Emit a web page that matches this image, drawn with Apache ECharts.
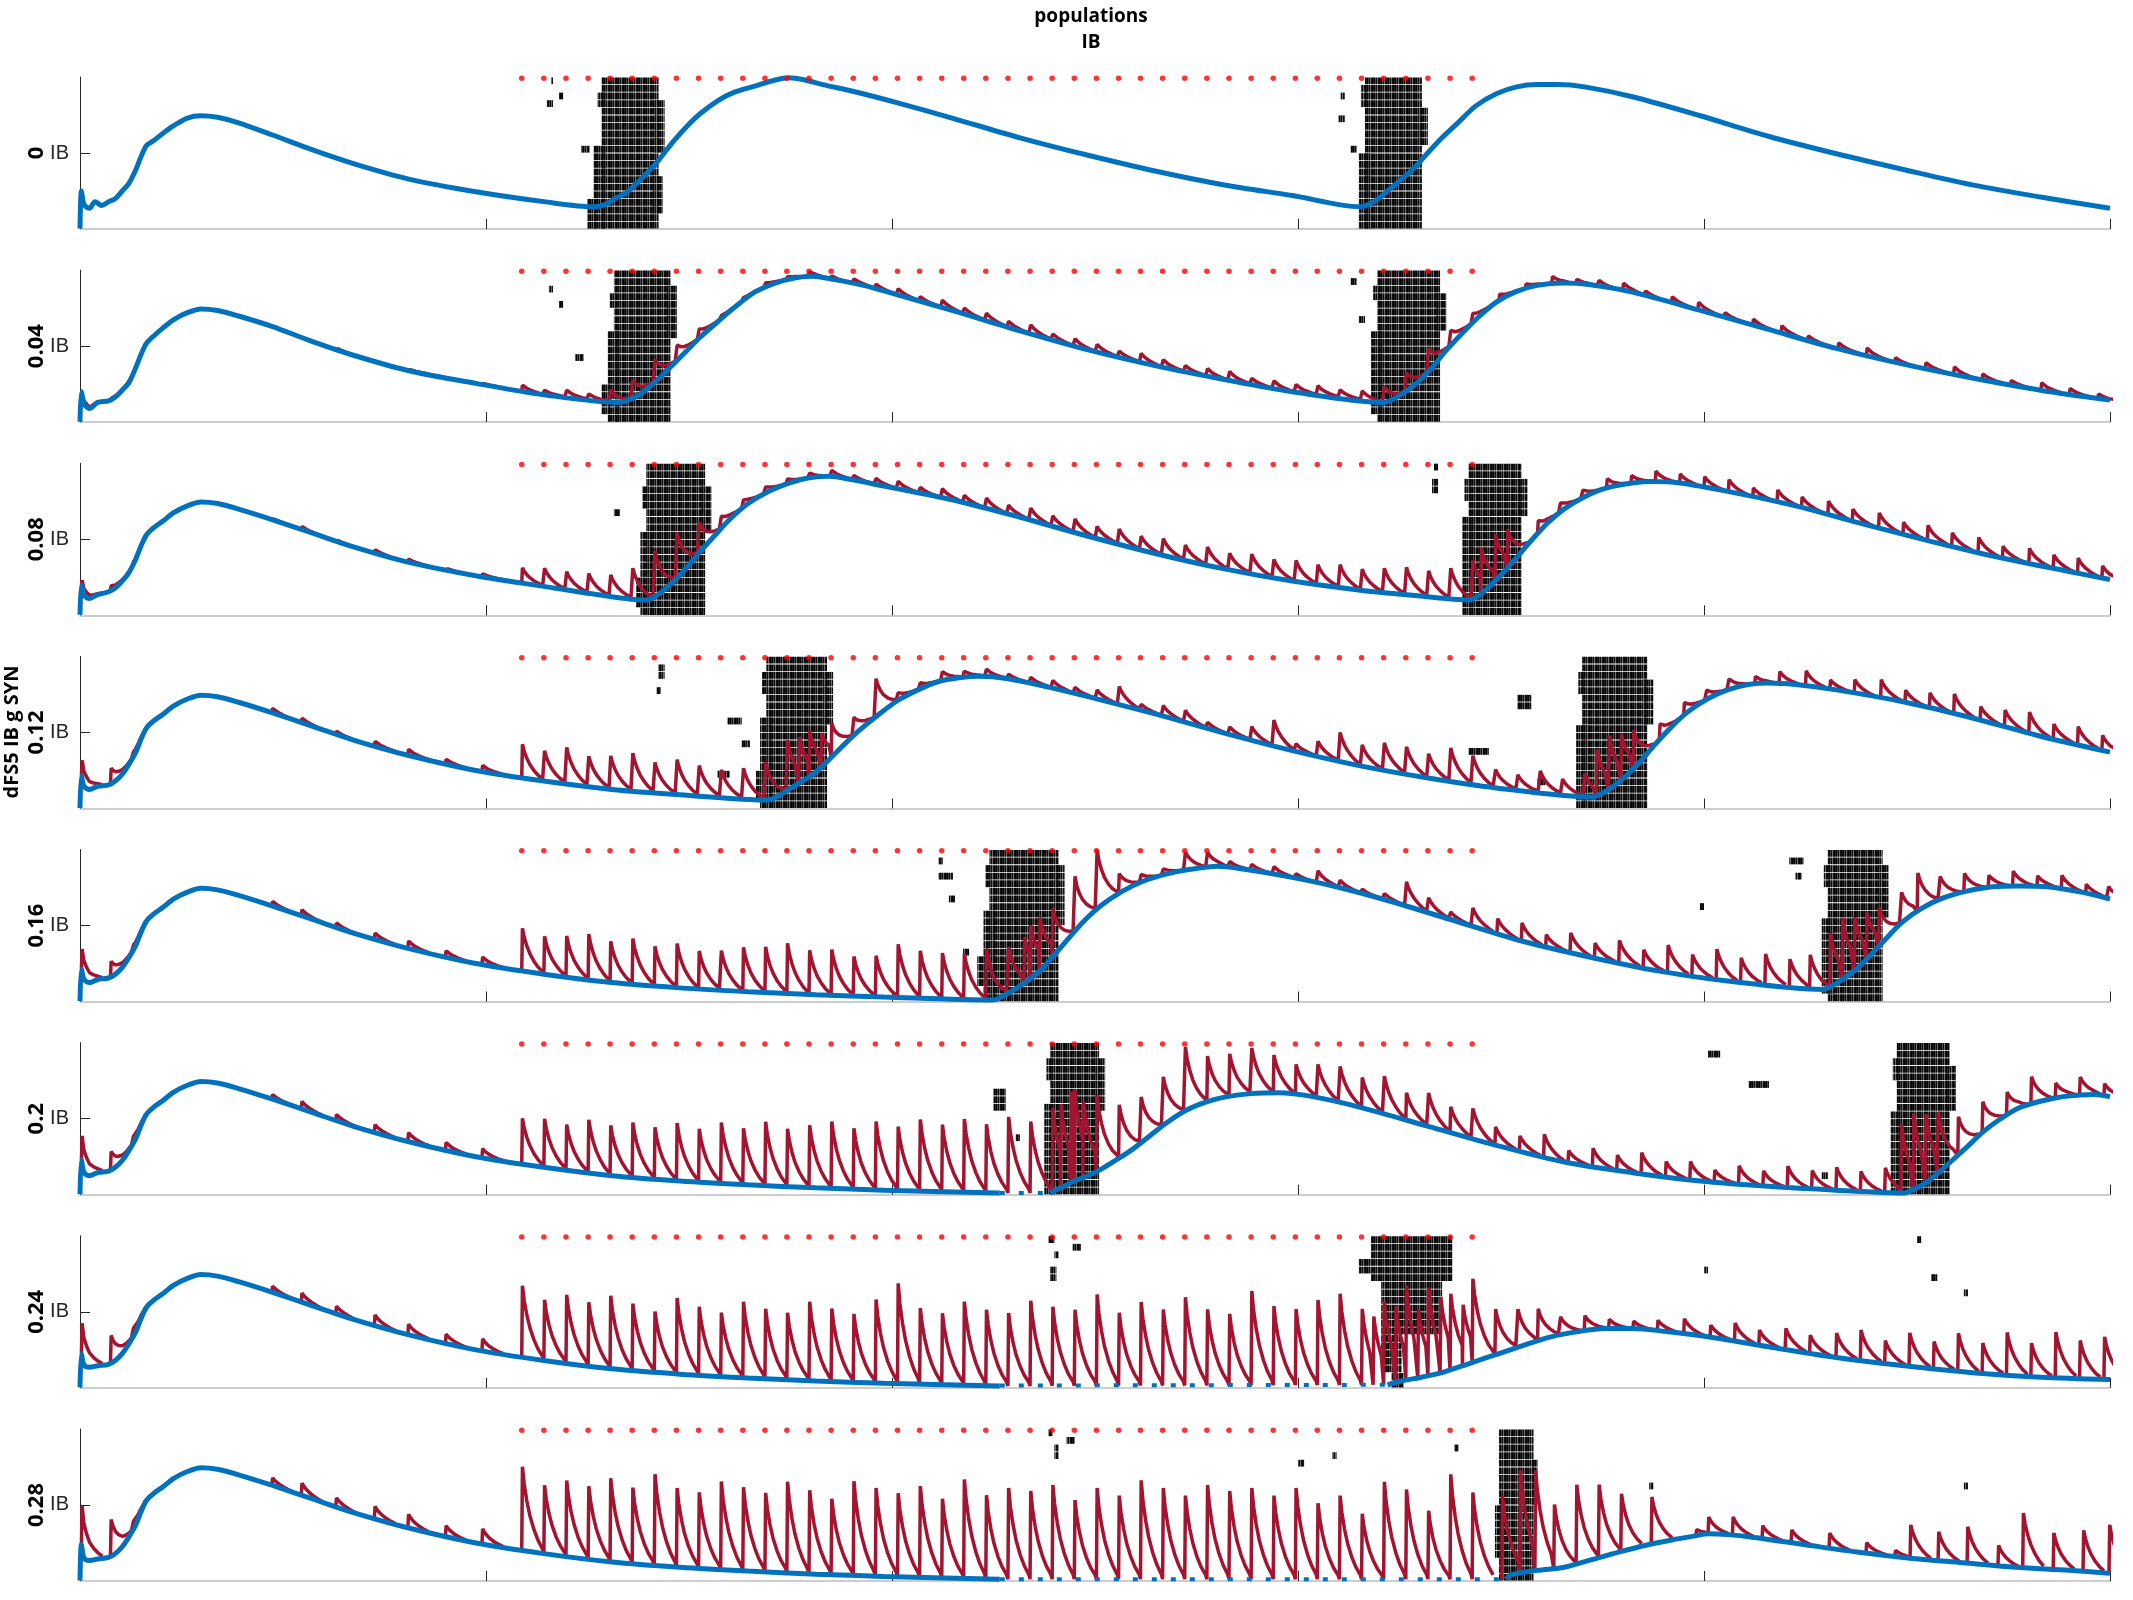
<!DOCTYPE html>
<html><head><meta charset="utf-8">
<script src="https://cdn.jsdelivr.net/npm/echarts@6/dist/echarts.min.js"></script>
<style>html,body{margin:0;padding:0;background:#fff}#c{width:2133px;height:1600px}</style>
</head><body><div id="c"></div>
<script>
// ---------------- data ----------------
const panelLabels = ['0','0.04','0.08','0.12','0.16','0.2','0.24','0.28'];
const xTicks = [0,200,400,600,800,1000];
const rowCount = 20;

// input pulse times (red dots)
const inputTimes = [217.6,228.5,239.4,250.3,261.1,272.0,282.9,293.8,304.7,315.6,326.5,337.4,348.2,359.1,370.0,380.9,391.8,402.7,413.6,424.5,435.3,446.2,457.1,468.0,478.9,489.8,500.7,511.6,522.4,533.3,544.2,555.1,566.0,576.9,587.8,598.7,609.5,620.4,631.3,642.2,653.1,664.0,674.9,685.8];
const earlyTimes = [0.7,15,26,94.5,109,126,145,161.5,180,198];

// blue traces [t, v]  (null = break)
const blue1 = [[0,0.003],[0.7,0.25],[2,0.16],[4.7,0.137],[7.4,0.18],[10.7,0.155],[14.1,0.18],[17.4,0.2],[20.8,0.25],[24.1,0.3],[27.5,0.39],[30.2,0.48],[32.8,0.55],[36.2,0.58],[40.9,0.63],[46.2,0.68],[52.9,0.73],[59.6,0.745],[67.7,0.735],[77.7,0.70],[94.5,0.62],[114.6,0.52],[134.7,0.43],[161.5,0.33],[195,0.245],[228.5,0.18],[253.3,0.146],[258.7,0.16],[263.4,0.2],[268.8,0.235],[274.1,0.3],[278.8,0.36],[285.5,0.46],[292.2,0.575],[298.9,0.675],[305.6,0.76],[314.3,0.845],[322.4,0.9],[332.4,0.94],[342.5,0.98],[349.2,0.995],[357.2,0.98],[365.9,0.95],[382.7,0.9],[402.8,0.83],[429.6,0.73],[463.1,0.6],[496.6,0.485],[530.1,0.38],[563.7,0.29],[597.2,0.22],[630.7,0.146],[637.4,0.18],[644.1,0.25],[650.8,0.325],[657.5,0.405],[664.2,0.505],[670.9,0.6],[678.9,0.7],[687.6,0.81],[697.7,0.89],[707.7,0.935],[717.8,0.95],[727.8,0.95],[741.2,0.935],[764.7,0.87],[798.2,0.745],[831.7,0.61],[865.2,0.495],[898.7,0.39],[932.2,0.29],[965.8,0.21],[1000,0.137]];
const blue2 = [[0,0.003],[0.7,0.2],[2,0.12],[4.7,0.09],[8.7,0.13],[14.1,0.14],[17.4,0.165],[20.8,0.21],[24.1,0.26],[27.5,0.36],[30.2,0.45],[32.8,0.52],[36.2,0.565],[40.9,0.62],[46.2,0.675],[52.9,0.72],[59.6,0.745],[67.7,0.735],[77.7,0.70],[94.5,0.63],[114.6,0.53],[134.7,0.44],[161.5,0.34],[195,0.255],[228.5,0.18],[265.4,0.13],[270.1,0.145],[275.5,0.18],[280.8,0.235],[286.2,0.3],[292.2,0.38],[298.9,0.47],[305.6,0.56],[313.7,0.655],[322.4,0.755],[332.4,0.855],[342.5,0.915],[352.5,0.95],[361.2,0.96],[370.6,0.94],[386,0.9],[406.1,0.825],[429.6,0.735],[463.1,0.6],[496.6,0.475],[530.1,0.37],[563.7,0.28],[597.2,0.2],[642,0.13],[647.4,0.155],[652.8,0.2],[658.8,0.26],[665.5,0.35],[672.9,0.47],[680.9,0.585],[689.6,0.7],[697.7,0.79],[707.7,0.86],[717.8,0.9],[731.2,0.915],[743.2,0.905],[764.7,0.855],[798.2,0.735],[831.7,0.61],[865.2,0.485],[898.7,0.38],[932.2,0.29],[965.8,0.21],[1000,0.145]];
const blue3 = [[0,0.003],[0.7,0.2],[2,0.13],[4.7,0.11],[8.7,0.135],[14.1,0.155],[17.4,0.18],[20.8,0.225],[24.1,0.28],[27.5,0.37],[30.2,0.46],[32.8,0.53],[36.2,0.575],[40.9,0.62],[46.2,0.675],[52.9,0.72],[59.6,0.745],[67.7,0.735],[77.7,0.70],[94.5,0.63],[114.6,0.54],[134.7,0.45],[161.5,0.35],[195,0.26],[228.5,0.19],[255.3,0.135],[278.8,0.1],[283.5,0.125],[288.9,0.18],[294.2,0.245],[300.2,0.335],[306.3,0.43],[313,0.53],[320.4,0.635],[329.1,0.735],[339.1,0.815],[349.2,0.87],[359.2,0.905],[369.3,0.915],[379.3,0.895],[396.1,0.85],[429.6,0.76],[463.1,0.645],[496.6,0.52],[530.1,0.405],[563.7,0.305],[597.2,0.225],[630.7,0.165],[657.5,0.13],[684.3,0.1],[689.6,0.135],[695,0.2],[701,0.28],[707.7,0.38],[715.1,0.495],[723.2,0.61],[731.2,0.7],[741.2,0.78],[751.3,0.835],[764.7,0.87],[774.8,0.88],[788.2,0.87],[811.6,0.815],[845.1,0.72],[878.6,0.6],[912.2,0.485],[945.6,0.38],[979.2,0.29],[1000,0.235]];
const blue4 = [[0,0.003],[0.7,0.215],[2,0.145],[4.7,0.125],[8.7,0.145],[14.1,0.155],[17.4,0.18],[20.8,0.225],[24.1,0.29],[27.5,0.37],[30.2,0.46],[32.8,0.53],[36.2,0.575],[40.9,0.62],[46.2,0.675],[52.9,0.72],[59.6,0.745],[67.7,0.735],[77.7,0.70],[94.5,0.63],[114.6,0.54],[134.7,0.45],[161.5,0.35],[195,0.25],[228.5,0.18],[262,0.125],[295.6,0.09],[339.1,0.055],[343.8,0.08],[349.2,0.125],[355.9,0.18],[362.6,0.24],[369.3,0.325],[376,0.415],[384,0.515],[392.7,0.61],[402.8,0.71],[412.8,0.78],[422.9,0.835],[432.9,0.86],[443,0.87],[456.4,0.855],[476.5,0.8],[496.6,0.735],[530.1,0.62],[563.7,0.495],[597.2,0.38],[630.7,0.28],[664.2,0.2],[697.7,0.135],[744.6,0.075],[749.9,0.1],[755.3,0.145],[761.3,0.21],[768.1,0.3],[774.8,0.405],[782.8,0.52],[791.5,0.63],[801.6,0.72],[811.6,0.78],[821.7,0.815],[831.7,0.825],[845.1,0.815],[865.2,0.78],[898.7,0.7],[932.2,0.595],[965.8,0.475],[1000,0.37]];
const blue5 = [[0,0.003],[0.7,0.215],[2,0.145],[4.7,0.125],[8.7,0.145],[14.1,0.155],[17.4,0.18],[20.8,0.225],[24.1,0.29],[27.5,0.37],[30.2,0.46],[32.8,0.53],[36.2,0.575],[40.9,0.62],[46.2,0.675],[52.9,0.72],[59.6,0.745],[67.7,0.735],[77.7,0.70],[94.5,0.63],[114.6,0.54],[134.7,0.45],[161.5,0.35],[195,0.25],[228.5,0.18],[262,0.125],[295.6,0.09],[329.1,0.065],[362.6,0.045],[396.1,0.03],[449.7,0.01],[455.1,0.04],[460.4,0.08],[466.5,0.135],[473.2,0.205],[479.9,0.305],[486.6,0.41],[494.6,0.53],[503.3,0.635],[513.4,0.725],[523.4,0.79],[535.5,0.84],[546.9,0.87],[560.3,0.89],[573.7,0.87],[593.8,0.825],[617.3,0.76],[644.1,0.665],[677.6,0.53],[711.1,0.395],[744.6,0.29],[778.1,0.2],[811.6,0.135],[858.5,0.08],[863.9,0.11],[869.2,0.155],[875.3,0.215],[882,0.305],[889.4,0.41],[897.4,0.52],[906.8,0.61],[917.5,0.68],[928.9,0.725],[942.3,0.755],[955.7,0.76],[969.1,0.755],[985.8,0.72],[1000,0.675]];
const blue6 = [[0,0.003],[0.7,0.23],[2,0.145],[4.7,0.125],[8.7,0.145],[14.1,0.155],[17.4,0.18],[20.8,0.225],[24.1,0.29],[27.5,0.37],[30.2,0.46],[32.8,0.53],[36.2,0.575],[40.9,0.62],[46.2,0.675],[52.9,0.72],[59.6,0.745],[67.7,0.735],[77.7,0.70],[94.5,0.63],[114.6,0.54],[134.7,0.45],[161.5,0.35],[195,0.25],[228.5,0.18],[262,0.125],[295.6,0.09],[329.1,0.065],[362.6,0.045],[396.1,0.03],[453.1,0.012],null,[477.9,0.012],[483.2,0.045],[489.9,0.09],[496.6,0.125],[503.3,0.17],[510,0.225],[518.1,0.295],[526.8,0.385],[535.5,0.475],[544.9,0.555],[554.9,0.61],[565,0.645],[577,0.665],[590.5,0.67],[607.2,0.645],[630.7,0.575],[664.2,0.45],[697.7,0.325],[731.2,0.215],[764.7,0.145],[798.2,0.09],[831.7,0.055],[865.2,0.03],[898.7,0.012],[904.1,0.04],[909.5,0.08],[915.5,0.145],[922.2,0.225],[929.6,0.315],[937.6,0.415],[945.6,0.495],[955,0.57],[965.8,0.615],[979.2,0.65],[992.5,0.66],[1000,0.645]];
const blue7 = [[0,0.003],[0.7,0.225],[2,0.15],[4.7,0.135],[8.7,0.145],[14.1,0.155],[17.4,0.18],[20.8,0.225],[24.1,0.29],[27.5,0.37],[30.2,0.46],[32.8,0.53],[36.2,0.575],[40.9,0.62],[46.2,0.675],[52.9,0.72],[59.6,0.745],[67.7,0.735],[77.7,0.70],[94.5,0.63],[114.6,0.54],[134.7,0.45],[161.5,0.35],[195,0.25],[228.5,0.18],[262,0.125],[295.6,0.09],[329.1,0.065],[362.6,0.045],[396.1,0.03],[453.1,0.012],null,[644.1,0.02],[650.8,0.045],[660.9,0.07],[670.9,0.1],[684.3,0.16],[697.7,0.22],[711.1,0.28],[724.5,0.335],[737.9,0.37],[751.3,0.39],[764.7,0.39],[781.5,0.37],[804.9,0.33],[831.7,0.27],[865.2,0.2],[898.7,0.145],[932.2,0.1],[965.8,0.07],[1000,0.055]];
const blue8 = [[0,0.003],[0.7,0.24],[2,0.15],[4.7,0.135],[8.7,0.145],[14.1,0.155],[17.4,0.18],[20.8,0.225],[24.1,0.29],[27.5,0.37],[30.2,0.46],[32.8,0.53],[36.2,0.575],[40.9,0.62],[46.2,0.675],[52.9,0.72],[59.6,0.745],[67.7,0.735],[77.7,0.70],[94.5,0.63],[114.6,0.54],[134.7,0.45],[161.5,0.35],[195,0.25],[228.5,0.18],[262,0.125],[295.6,0.09],[329.1,0.065],[362.6,0.045],[396.1,0.03],[453.1,0.012],null,[702.4,0.012],[705,0.04],[717.8,0.07],[731.2,0.09],[744.6,0.14],[758,0.19],[771.4,0.235],[784.1,0.27],[794.9,0.295],[802.2,0.31],[811.6,0.305],[823,0.29],[849.1,0.24],[875.3,0.19],[901.4,0.15],[927.6,0.12],[953.7,0.09],[979.8,0.07],[1000,0.05]];
// sub-threshold blue segments (drawn dotted)
const blueGap6 = [[453.1,0.012],[477.9,0.012]];
const blueGap7 = [[453.1,0.015],[644.1,0.02]];
const blueGap8 = [[453.1,0.012],[702.4,0.012]];

// red spike amplitudes (above blue) at earlyTimes
const redEarly1 = [0,0,0,0,0,0,0,0,0,0];
const redEarly2 = [0.02,0.01,0,0,0,0.01,0,0.01,0,0.01];
const redEarly3 = [0.05,0.03,0.01,0.01,0.02,0.01,0.02,0.02,0.01,0.02];
const redEarly4 = [0.12,0.1,0.03,0.03,0.03,0.02,0.03,0.04,0.03,0.04];
const redEarly5 = [0.15,0.1,0.03,0.03,0.04,0.03,0.04,0.05,0.04,0.05];
const redEarly6 = [0.18,0.12,0.04,0.03,0.05,0.04,0.05,0.06,0.05,0.06];
const redEarly7 = [0.22,0.18,0.05,0.04,0.06,0.05,0.07,0.07,0.06,0.08];
const redEarly8 = [0.28,0.24,0.05,0.05,0.08,0.06,0.08,0.09,0.07,0.1];
// red spike amplitudes at inputTimes
const redWin1 = [];
const redWin2 = [0.04,0.03,0.045,0.035,0.08,0.12,0.15,0.1,0.06,0.02,0.02,0.03,0.02,0.03,0.02,0.03,0.03,0.04,0.03,0.05,0.04,0.05,0.04,0.06,0.04,0.05,0.05,0.04,0.06,0.05,0.04,0.05,0.06,0.04,0.05,0.05,0.06,0.05,0.06,0.1,0.12,0.15,0.1,0.06];
const redWin3 = [0.1,0.12,0.12,0.13,0.14,0.2,0.3,0.3,0.2,0.08,0.05,0.04,0.03,0.03,0.04,0.03,0.04,0.05,0.04,0.06,0.05,0.07,0.06,0.08,0.07,0.09,0.08,0.1,0.09,0.11,0.1,0.12,0.11,0.13,0.12,0.14,0.13,0.15,0.14,0.16,0.18,0.17,0.2,0.25];
const redWin4 = [0.22,0.2,0.24,0.2,0.22,0.25,0.2,0.23,0.2,0.18,0.2,0.25,0.33,0.3,0.22,0.12,0.25,0.05,0.04,0.06,0.04,0.05,0.03,0.04,0.05,0.04,0.06,0.12,0.04,0.07,0.08,0.04,0.05,0.09,0.17,0.05,0.1,0.19,0.14,0.18,0.18,0.16,0.22,0.19];
const redWin5 = [0.28,0.25,0.27,0.3,0.27,0.3,0.26,0.29,0.25,0.26,0.29,0.3,0.33,0.29,0.3,0.26,0.27,0.35,0.31,0.3,0.3,0.34,0.3,0.35,0.32,0.36,0.39,0.13,0.05,0.04,0.12,0.1,0.04,0.04,0.05,0.03,0.08,0.05,0.03,0.04,0.16,0.1,0.05,0.12];
const redWin6 = [0.3,0.32,0.3,0.35,0.33,0.36,0.34,0.38,0.35,0.4,0.37,0.42,0.38,0.41,0.44,0.4,0.45,0.42,0.47,0.44,0.48,0.45,0.5,0.47,0.55,0.6,0.5,0.35,0.3,0.32,0.42,0.3,0.28,0.3,0.25,0.2,0.22,0.24,0.2,0.25,0.18,0.22,0.17,0.2];
const redWin7 = [0.47,0.4,0.45,0.42,0.48,0.44,0.4,0.5,0.45,0.42,0.5,0.46,0.44,0.52,0.48,0.45,0.55,0.66,0.5,0.47,0.55,0.5,0.48,0.56,0.52,0.5,0.6,0.48,0.55,0.5,0.58,0.5,0.47,0.62,0.52,0.5,0.56,0.6,0.5,0.55,0.62,0.58,0.5,0.55];
const redWin8 = [0.55,0.45,0.5,0.48,0.55,0.5,0.6,0.52,0.5,0.58,0.55,0.52,0.6,0.55,0.5,0.62,0.58,0.55,0.6,0.52,0.65,0.55,0.6,0.58,0.62,0.52,0.6,0.55,0.65,0.6,0.55,0.62,0.58,0.6,0.55,0.6,0.5,0.55,0.43,0.64,0.59,0.45,0.69,0.57];
// other red spikes [t, amplitude]
const redExtra1 = [];
const redExtra2 = [[699,0.04],[712,0.03],[725,0.05],[737,0.03],[748,0.04],[760,0.05],[771,0.03],[784,0.04],[797,0.05],[810,0.03],[824,0.04],[838,0.05],[851,0.03],[866,0.04],[880,0.05],[894,0.03],[909,0.04],[923,0.05],[937,0.04],[951,0.03],[966,0.05],[980,0.04],[994,0.03]];
const redExtra3 = [[690,0.3],[697,0.3],[703,0.25],[718,0.08],[729,0.06],[740,0.05],[752,0.06],[764,0.05],[776,0.07],[788,0.06],[800,0.07],[812,0.08],[824,0.06],[836,0.08],[848,0.07],[861,0.09],[873,0.08],[886,0.1],[898,0.08],[910,0.1],[922,0.09],[935,0.1],[947,0.08],[960,0.1],[972,0.09],[984,0.1],[996,0.08]];
const redExtra4 = [[354,0.3],[365,0.22],[697,0.12],[708,0.1],[719,0.14],[730,0.1],[741,0.15],[747,0.3],[753,0.35],[759,0.3],[765,0.25],[778,0.1],[790,0.08],[801,0.06],[812,0.07],[825,0.05],[837,0.08],[850,0.1],[862,0.06],[874,0.09],[887,0.12],[899,0.08],[911,0.1],[923,0.13],[936,0.09],[948,0.11],[960,0.14],[972,0.1],[984,0.12],[996,0.1]];
const redExtra5 = [[465,0.3],[472.6,0.35],[698,0.1],[710,0.12],[722,0.08],[734,0.13],[746,0.1],[758,0.15],[770,0.12],[782,0.18],[794,0.14],[806,0.2],[818,0.16],[830,0.2],[842,0.18],[852,0.22],[862,0.35],[868,0.4],[874,0.35],[880,0.3],[886,0.25],[897,0.2],[905,0.25],[916,0.15],[928,0.12],[940,0.08],[952,0.1],[964,0.07],[976,0.09],[988,0.06],[999,0.08]];
const redExtra6 = [[483,0.55],[488,0.6],[494,0.5],[697,0.12],[709,0.1],[721,0.15],[733,0.08],[745,0.12],[757,0.1],[769,0.14],[781,0.1],[793,0.12],[805,0.08],[817,0.12],[829,0.1],[841,0.14],[853,0.12],[865,0.15],[877,0.13],[889,0.16],[897,0.45],[903,0.5],[909,0.45],[915,0.4],[925,0.25],[937,0.2],[949,0.15],[961,0.18],[973,0.1],[985,0.12],[997,0.08]];
const redExtra7 = [[637,0.45],[648,0.5],[659,0.45],[670,0.5],[681,0.4],[697,0.3],[708,0.25],[718,0.21],[729,0.12],[741,0.1],[753,0.06],[765,0.05],[777,0.07],[790,0.1],[803,0.08],[815,0.12],[827,0.1],[840,0.14],[852,0.12],[865,0.16],[877,0.2],[889,0.15],[901,0.22],[913,0.18],[925,0.25],[937,0.2],[949,0.28],[961,0.22],[973,0.3],[985,0.25],[997,0.28]];
const redExtra8 = [[700.4,0.55],[709.3,0.68],[716.7,0.66],[726,0.42],[737,0.52],[748,0.48],[759,0.38],[774,0.31],[796,0.04],[802,0.11],[814,0.12],[828.6,0.085],[842.9,0.085],[861.6,0.1],[879.8,0.07],[894,0.04],[901.5,0.22],[915.3,0.19],[929.6,0.24],[944.8,0.135],[957,0.36],[972,0.24],[986.7,0.27],[999.5,0.32]];

// raster blocks [tStart, tEnd, rowFrom, rowTo]
const raster1 = [[257,285,0,19],[255,259,2,3],[253,259,9,19],[283,288,3,9],[282,287,13,17],[250,254,16,19],[232,233,0,0],[236,238,2,2],[230,233,3,3],[247,251,9,9],[633,661,0,19],[630,636,10,19],[659,664,4,8],[631,634,1,3],[621,623,2,2],[620,623,5,5],[626,629,9,9]];
const raster2 = [[263,291,0,19],[260,266,8,19],[289,294,2,8],[261,264,3,4],[257,261,15,18],[231,233,2,2],[236,238,4,4],[244,248,11,11],[639,670,0,19],[636,642,8,18],[668,673,3,7],[637,640,2,3],[626,629,1,1],[630,633,6,6]];
const raster3 = [[279,308,0,19],[276,282,9,19],[306,311,3,8],[277,280,3,5],[274,278,15,18],[263,266,6,6],[684,710,0,19],[681,687,7,19],[708,713,2,6],[682,685,2,4],[667,669,0,0],[666,669,2,3]];
const raster4 = [[338,368,0,19],[335,341,8,19],[366,371,2,8],[336,339,2,4],[333,337,15,18],[285,288,1,2],[284,286,4,4],[319,326,8,8],[326,330,11,11],[314,320,15,15],[740,772,0,19],[737,743,9,19],[770,775,3,8],[738,741,2,4],[684,694,12,12],[708,715,5,6],[718,722,16,16]];
const raster5 = [[448,482,0,19],[445,451,8,19],[480,485,2,9],[446,449,2,4],[442,446,14,17],[423,425,1,1],[423,430,3,3],[428,431,6,6],[435,438,13,13],[861,888,0,19],[858,864,9,18],[886,891,2,8],[859,862,2,4],[842,849,1,1],[845,848,3,3],[798,800,7,7]];
const raster6 = [[478,502,0,19],[475,481,8,19],[500,505,2,8],[476,479,2,4],[450,456,6,8],[461,463,12,12],[895,921,0,19],[892,898,9,19],[919,924,3,8],[893,896,2,4],[802,808,1,1],[822,832,5,5],[858,861,17,17]];
const raster7 = [[636,676,0,5],[641,671,6,12],[641,651,13,17],[646,652,18,19],[630,636,3,4],[477,480,0,0],[480,482,2,2],[478,481,4,5],[489,493,1,1],[905,907,0,0],[912,915,5,5],[928,930,7,7],[800,802,4,4]];
const raster8 = [[699,716,0,19],[697,701,10,16],[715,718,4,9],[477,479,0,0],[480,482,2,3],[486,490,1,1],[600,603,4,4],[617,619,3,3],[677,679,2,2],[773,775,7,7],[928,930,7,7]];

// ---------------- build ----------------
const blues = [blue1,blue2,blue3,blue4,blue5,blue6,blue7,blue8];
const blueGaps = [null,null,null,null,null,blueGap6,blueGap7,blueGap8];
const redEarly = [redEarly1,redEarly2,redEarly3,redEarly4,redEarly5,redEarly6,redEarly7,redEarly8];
const redWin = [redWin1,redWin2,redWin3,redWin4,redWin5,redWin6,redWin7,redWin8];
const redExtra = [redExtra1,redExtra2,redExtra3,redExtra4,redExtra5,redExtra6,redExtra7,redExtra8];
const rasters = [raster1,raster2,raster3,raster4,raster5,raster6,raster7,raster8];

const C_BLUE = '#0072BD', C_RED = '#A2142F', C_AX = '#262626';
const FONT = "'Open Sans','DejaVu Sans',sans-serif";
const GRID_LEFT = 80, GRID_W = 2030, GRID_TOP0 = 77, GRID_STEP = 193.14, GRID_H = 152;
// spike waveform (time offset, fraction of amplitude) - drawing shape only
const SHAPE = [[0,0],[0.35,1],[1.2,0.8],[2.5,0.6],[4,0.43],[6,0.27],[8,0.15],[10.3,0.05]];

function baseAt(pts, t){
  const p = pts.filter(Boolean);
  if (t <= p[0][0]) return p[0][1];
  for (let i=0;i<p.length-1;i++){
    if (t <= p[i+1][0]){ const a=p[i], b=p[i+1]; return a[1] + (b[1]-a[1])*(t-a[0])/(b[0]-a[0]); }
  }
  return p[p.length-1][1];
}
function blueLine(pts){
  const out=[]; let last=0;
  pts.forEach(p=>{ if(p===null){ out.push([last+0.01,'-']); } else { out.push(p); last=p[0]; } });
  return out;
}
function redLine(i){
  const sp=[];
  earlyTimes.forEach((t,j)=>{ const a=redEarly[i][j]; if(a>0.005) sp.push([t,a]); });
  inputTimes.forEach((t,j)=>{ const a=redWin[i][j]; if(a>0.005) sp.push([t,a]); });
  redExtra[i].forEach(s=>sp.push(s));
  sp.sort((a,b)=>a[0]-b[0]);
  const out=[];
  sp.forEach((s,j)=>{
    const nx = sp[j+1];
    const lim = nx ? nx[0] : Infinity;
    for (const [dt,f] of SHAPE){
      const t = s[0]+dt;
      if (dt>0 && t>=lim) break;
      out.push([t, baseAt(blues[i],t) + s[1]*f]);
    }
    if (!nx || nx[0]-s[0] > 11.5) out.push([s[0]+10.4,'-']);
  });
  return out;
}

// raster stripe pattern
const pc = document.createElement('canvas'); pc.width = 7; pc.height = 2;
const pctx = pc.getContext('2d');
['#000000','#1c1c1c','#000000','#474747','#0d0d0d','#6e6e6e','#121212'].forEach((c,k)=>{ pctx.fillStyle=c; pctx.fillRect(k,0,1,2); });
const stripe = {image: pc, repeat: 'repeat'};

const grids=[], xAxes=[], yAxes=[], series=[];
for (let i=0;i<8;i++){
  grids.push({left:GRID_LEFT, width:GRID_W, top:GRID_TOP0+GRID_STEP*i, height:GRID_H, containLabel:false});
  xAxes.push({type:'value', gridIndex:i, min:xTicks[0], max:xTicks[xTicks.length-1], interval:xTicks[1]-xTicks[0],
    axisLine:{show:true, onZero:false, lineStyle:{color:'#bdbdbd', width:1.5}},
    axisTick:{show:true, inside:true, length:10, lineStyle:{color:C_AX, width:1}},
    axisLabel:{show:false}, splitLine:{show:false}});
  yAxes.push({type:'value', gridIndex:i, min:0, max:1, interval:0.5,
    axisLine:{show:true, onZero:false, lineStyle:{color:C_AX, width:1}},
    axisTick:{show:true, inside:true, length:10, customValues:[0.5], lineStyle:{color:C_AX}},
    axisLabel:{show:true, customValues:[0.5], formatter:()=> 'IB', margin:11, color:C_AX, fontSize:20,
      fontFamily:"'Liberation Sans Narrow','Liberation Sans',sans-serif"},
    splitLine:{show:false},
    name: panelLabels[i], nameLocation:'middle', nameGap:32, nameRotate:90, nameMoveOverlap:false,
    nameTextStyle:{fontSize:22, fontWeight:'bold', color:'#000', fontFamily:FONT}});

  series.push({type:'custom', xAxisIndex:i, yAxisIndex:i, z:1, silent:true, clip:false,
    data: rasters[i],
    encode:{x:[0,1], y:[2,3]},
    renderItem:(params, api)=>{
      const t0=api.value(0), t1=api.value(1), r0=api.value(2), r1=api.value(3);
      const ch=[];
      for (let r=r0;r<=r1;r++){
        const a=api.coord([t0, 1 - r/rowCount]);
        const b=api.coord([t1, 1 - (r+1)/rowCount]);
        ch.push({type:'rect', shape:{x:a[0], y:a[1]+0.4, width:Math.max(1.5,b[0]-a[0]), height:(b[1]-a[1])-0.8},
          style:{fill:stripe}});
      }
      return {type:'group', children:ch};
    }});
  if (redWin[i].length || redExtra[i].length){
    series.push({type:'line', xAxisIndex:i, yAxisIndex:i, z:2, data:redLine(i), showSymbol:false, smooth:false,
      connectNulls:false, lineStyle:{color:C_RED, width:3.5}, silent:true});
  }
  series.push({type:'line', xAxisIndex:i, yAxisIndex:i, z:3, data:blueLine(blues[i]), showSymbol:false, smooth:0.3,
    connectNulls:false, lineStyle:{color:C_BLUE, width:5}, silent:true});
  if (blueGaps[i]){
    series.push({type:'line', xAxisIndex:i, yAxisIndex:i, z:3, data:blueGaps[i], showSymbol:false,
      lineStyle:{color:C_BLUE, width:4, type:[5,14]}, silent:true});
  }
  series.push({type:'scatter', xAxisIndex:i, yAxisIndex:i, z:4, clip:false, symbolSize:5.5,
    itemStyle:{color:'#ff0000'}, data: inputTimes.map(t=>[t,0.992]), silent:true});
}

const chart = echarts.init(document.getElementById('c'), null, {renderer:'canvas'});
chart.setOption({
  animation:false, backgroundColor:'#fff',
  grid:grids, xAxis:xAxes, yAxis:yAxes, series:series,
  graphic:[
    {type:'text', x:1091, y:17, style:{text:'populations', align:'center', verticalAlign:'middle', textAlign:'center', textVerticalAlign:'middle', fontSize:19, fontWeight:'bold', fontFamily:FONT, fill:'#000'}},
    {type:'text', x:1091, y:43, style:{text:'IB', align:'center', verticalAlign:'middle', textAlign:'center', textVerticalAlign:'middle', fontSize:19, fontWeight:'bold', fontFamily:FONT, fill:'#000'}},
    {type:'text', x:12, y:732, rotation:Math.PI/2, style:{text:'dFS5 IB g SYN', align:'center', verticalAlign:'middle', textAlign:'center', textVerticalAlign:'middle', fontSize:20, fontWeight:'bold', fontFamily:FONT, fill:'#000'}}
  ]
});
</script></body></html>
